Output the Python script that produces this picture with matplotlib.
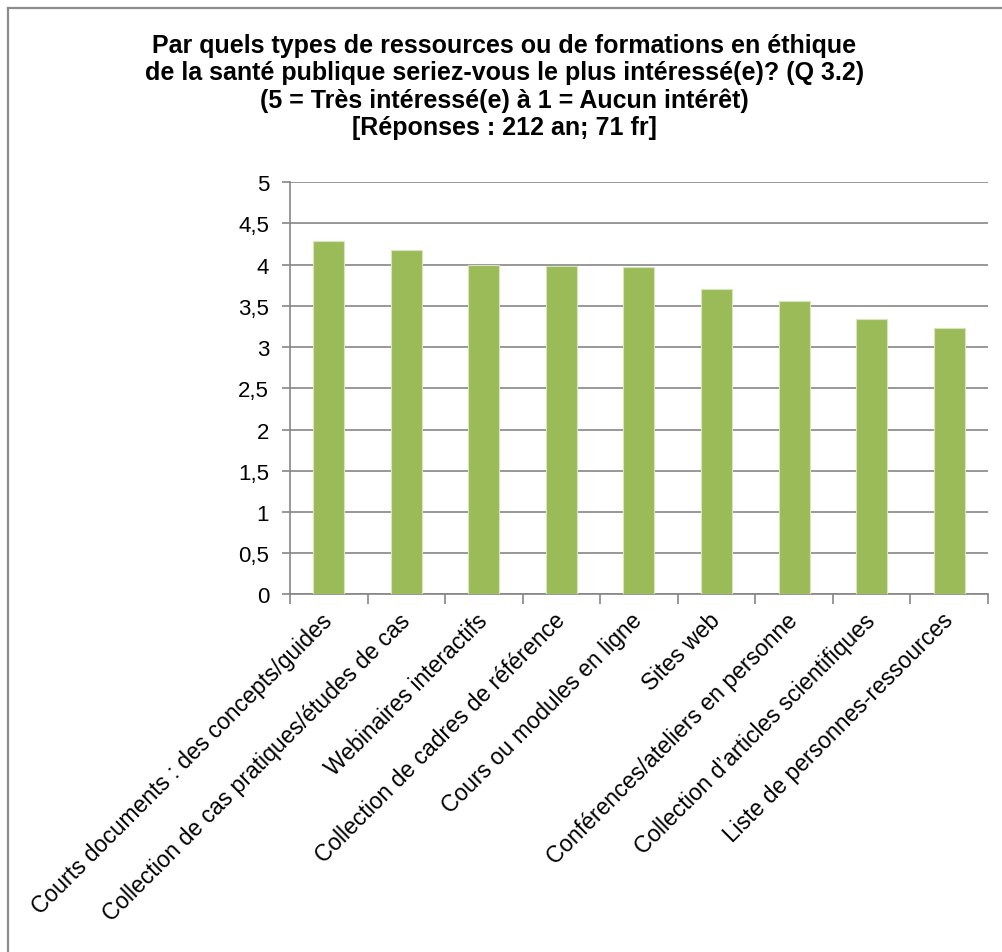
import matplotlib
matplotlib.use('Agg')
import matplotlib.pyplot as plt
from matplotlib.lines import Line2D

plt.rcParams['font.family'] = ['Liberation Sans', 'DejaVu Sans']

categories = ['Courts documents : des concepts/guides',
              'Collection de cas pratiques/études de cas',
              'Webinaires interactifs',
              'Collection de cadres de référence',
              'Cours ou modules en ligne',
              'Sites web',
              'Conférences/ateliers en personne',
              'Collection d\u2019articles scientifiques',
              'Liste de personnes-ressources']
values = [4.29, 4.18, 4.00, 3.99, 3.97, 3.71, 3.56, 3.34, 3.23]
yticks = [0, 0.5, 1, 1.5, 2, 2.5, 3, 3.5, 4, 4.5, 5]
ylabels = ['0', '0,5', '1', '1,5', '2', '2,5', '3', '3,5', '4', '4,5', '5']
title = ('Par quels types de ressources ou de formations en éthique\n'
         'de la santé publique seriez-vous le plus intéressé(e)? (Q 3.2)\n'
         '(5 = Très intéressé(e) à 1 = Aucun intérêt)\n'
         '[Réponses : 212 an; 71 fr]')

grey = '#868686'

fig = plt.figure(figsize=(10.03, 9.53), dpi=100)
ax = fig.add_axes([0.2891, 0.3753, 0.6959, 0.4324])

x = list(range(len(categories)))
ax.bar(x, values, width=0.4, color='#9BBB59', edgecolor='#d7e4bd', linewidth=0.8, zorder=3)

ax.set_xlim(-0.5, len(categories) - 0.5)
ax.set_ylim(0, 5)
ax.set_yticks(yticks)
ax.set_yticklabels(ylabels, fontsize=16)
ax.yaxis.grid(True, color=grey, linewidth=1.2, zorder=0)
ax.set_axisbelow(True)

ax.set_xticks(x)
ax.set_xticklabels(categories, fontsize=16.5, rotation=45, ha='right', va='center',
                   rotation_mode='anchor')
ax.tick_params(axis='x', which='major', length=0, pad=16)
ax.set_xticks([i - 0.5 for i in range(len(categories) + 1)], minor=True)
ax.tick_params(axis='x', which='minor', length=7, width=1.2, color=grey, direction='out')
ax.tick_params(axis='y', length=6, width=1.2, color=grey, direction='out', pad=9)

for s in ['top', 'right']:
    ax.spines[s].set_visible(False)
for s in ['left', 'bottom']:
    ax.spines[s].set_color(grey)
    ax.spines[s].set_linewidth(1.2)

fig.text(0.503, 0.9085, title, ha='center', va='center', fontsize=18,
         fontweight='bold', linespacing=1.17)

# chart area border (left and top edges visible)
fig.add_artist(Line2D([8.5 / 1003, 8.5 / 1003], [0, 1 - 8.5 / 953],
                      transform=fig.transFigure, color='#8c8c8c', linewidth=1.6))
fig.add_artist(Line2D([8.5 / 1003, 1], [1 - 8.5 / 953, 1 - 8.5 / 953],
                      transform=fig.transFigure, color='#8c8c8c', linewidth=1.6))

fig.savefig('out.png', dpi=100)
